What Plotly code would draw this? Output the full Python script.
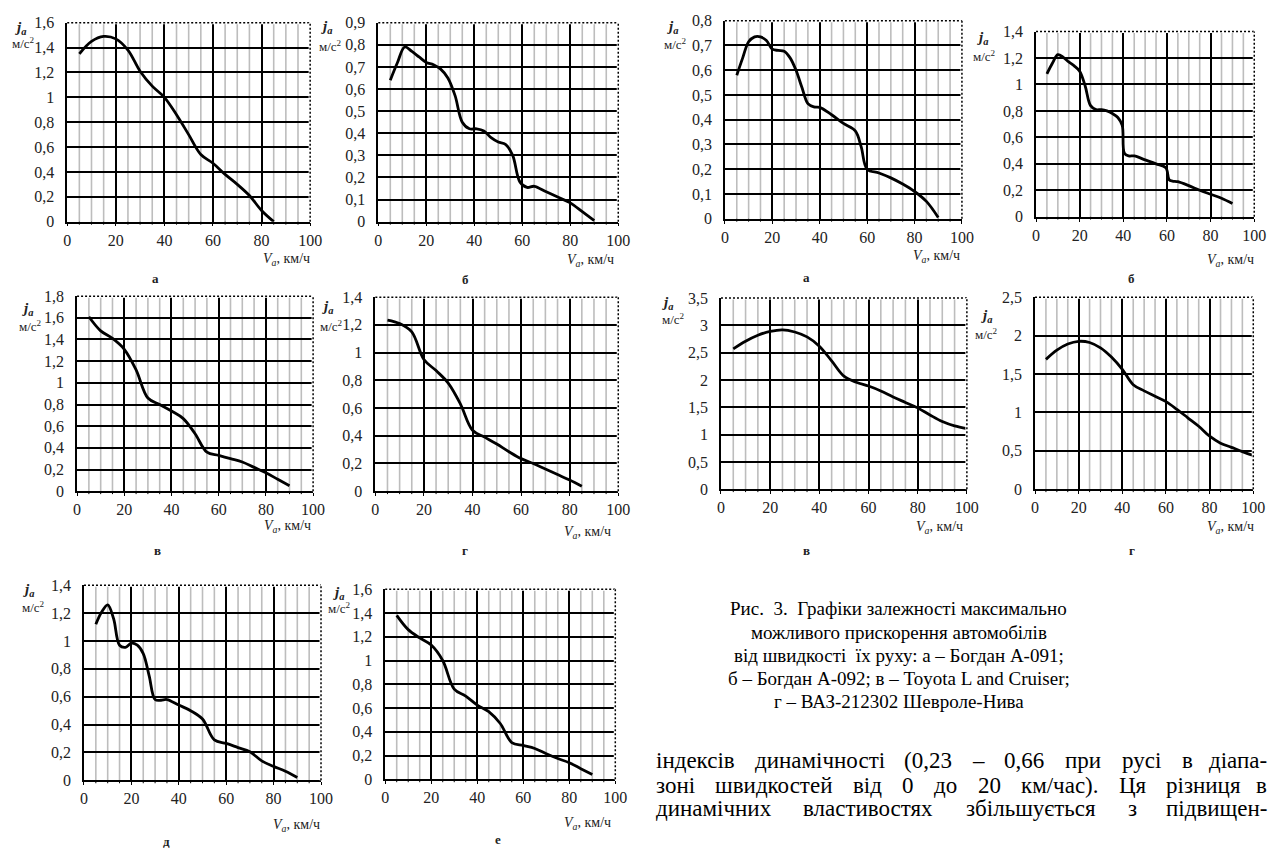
import plotly.graph_objects as go

W, H = 1287, 855

# ---------------- data ----------------
v1 = [5, 10, 15, 20, 25, 30, 35, 40, 45, 50, 55, 60, 65, 70, 75, 80, 85]
j1 = [1.35, 1.45, 1.49, 1.47, 1.38, 1.21, 1.09, 1.00, 0.86, 0.70, 0.54, 0.47, 0.38, 0.30, 0.21, 0.09, 0.0]

v2 = [5, 8, 11, 14, 17, 20, 23, 26, 29, 32, 35, 38, 41, 44, 47, 50, 53, 56, 59, 62, 65, 70, 75, 80, 85, 90]
j2 = [0.64, 0.72, 0.79, 0.77, 0.745, 0.72, 0.71, 0.69, 0.65, 0.57, 0.45, 0.42, 0.42, 0.41, 0.38, 0.36, 0.35, 0.30,
      0.18, 0.155, 0.16, 0.135, 0.11, 0.085, 0.045, 0.005]

v3 = [5, 10, 15, 20, 25, 30, 35, 40, 45, 50, 55, 60, 65, 70, 75, 80, 85, 90]
j3 = [1.61, 1.48, 1.41, 1.31, 1.12, 0.86, 0.80, 0.74, 0.67, 0.53, 0.36, 0.33, 0.30, 0.27, 0.22, 0.17, 0.11, 0.05]

v4 = [5, 10, 15, 20, 25, 30, 35, 40, 45, 50, 55, 60, 65, 70, 75, 80, 85]
j4 = [1.235, 1.21, 1.15, 0.95, 0.87, 0.78, 0.63, 0.44, 0.39, 0.34, 0.285, 0.235, 0.2, 0.16, 0.12, 0.08, 0.035]

v5 = [5, 7.5, 10, 12.5, 15, 17.5, 20, 22.5, 25, 27.5, 30, 32.5, 35, 40, 45, 50, 55, 60, 65, 70, 75, 80, 85, 90]
j5 = [1.12, 1.21, 1.26, 1.16, 0.97, 0.955, 0.985, 0.97, 0.91, 0.75, 0.58, 0.575, 0.58, 0.54, 0.50, 0.44, 0.29,
      0.265, 0.235, 0.205, 0.14, 0.10, 0.065, 0.02]

v6 = [5, 10, 15, 20, 25, 30, 35, 40, 45, 50, 55, 60, 65, 70, 75, 80, 85, 90]
j6 = [1.38, 1.26, 1.19, 1.13, 1.0, 0.76, 0.70, 0.625, 0.57, 0.47, 0.31, 0.285, 0.26, 0.215, 0.175, 0.14, 0.09, 0.04]

v7 = [5, 7.5, 10, 12.5, 15, 17.5, 20, 22.5, 25, 27.5, 30, 32.5, 35, 37.5, 40, 45, 50, 55, 57.5, 60, 65, 70, 75,
      80, 85, 90]
j7 = [0.58, 0.65, 0.715, 0.735, 0.735, 0.72, 0.685, 0.68, 0.677, 0.65, 0.60, 0.53, 0.465, 0.452, 0.45, 0.42,
      0.385, 0.355, 0.29, 0.2, 0.185, 0.165, 0.14, 0.11, 0.07, 0.005]

v8 = [5, 7.5, 10, 12.5, 15, 17.5, 20, 22.5, 25, 27.5, 30, 32.5, 35, 37.5, 39.5, 40.5, 42.5, 45, 50, 55, 59.5,
      61, 62.5, 65, 70, 75, 80, 85, 90]
j8 = [1.08, 1.16, 1.225, 1.205, 1.17, 1.14, 1.10, 0.99, 0.84, 0.81, 0.81, 0.80, 0.78, 0.75, 0.69, 0.48, 0.46,
      0.46, 0.43, 0.40, 0.37, 0.28, 0.27, 0.265, 0.235, 0.20, 0.17, 0.14, 0.10]

v9 = [5, 10, 15, 20, 25, 30, 35, 40, 45, 50, 55, 60, 65, 70, 75, 80, 85, 90, 95, 100]
j9 = [2.57, 2.71, 2.82, 2.89, 2.92, 2.88, 2.79, 2.62, 2.35, 2.07, 1.96, 1.89, 1.80, 1.69, 1.59, 1.49, 1.36,
      1.24, 1.16, 1.11]

v10 = [5, 10, 15, 20, 25, 30, 35, 40, 45, 50, 55, 60, 65, 70, 75, 80, 85, 90, 95, 100]
j10 = [1.69, 1.81, 1.89, 1.925, 1.91, 1.84, 1.72, 1.56, 1.36, 1.28, 1.21, 1.14, 1.04, 0.93, 0.82, 0.69, 0.60,
       0.545, 0.49, 0.44]

x_major_ticks = [0, 20, 40, 60, 80, 100]
x_minor_ticks = [5, 10, 15, 25, 30, 35, 45, 50, 55, 65, 70, 75, 85, 90, 95]
panel_letters = ["а", "б", "в", "г", "д", "е", "а", "б", "в", "г"]
y_max = [1.6, 0.9, 1.8, 1.4, 1.4, 1.6, 0.8, 1.4, 3.5, 2.5]
y_step = [0.2, 0.1, 0.2, 0.2, 0.2, 0.2, 0.1, 0.2, 0.5, 0.5]

caption_lines = [
    "Рис.  3.  Графіки залежності максимально",
    "можливого прискорення автомобілів",
    "від швидкості  їх руху: а – Богдан А-091;",
    "б – Богдан А-092; в – Toyota L and Cruiser;",
    "г – ВАЗ-212302 Шевроле-Нива",
]
paragraph_lines = [
    "індексів динамічності (0,23 – 0,66 при русі в діапа-",
    "зоні швидкостей від 0 до 20 км/час). Ця різниця в",
    "динамічних властивостях збільшується з підвищен-",
]

series = [(v1, j1), (v2, j2), (v3, j3), (v4, j4), (v5, j5), (v6, j6), (v7, j7), (v8, j8), (v9, j9), (v10, j10)]

# ---------------- layout geometry (pixels) ----------------
boxes = [  # left, right, top, bottom
    (64, 310, 15, 218), (379, 622, 15, 218),
    (74, 313, 294, 493), (376, 622, 295, 493),
    (81, 321, 589, 788), (386, 619, 593, 787),
    (730, 970, 13, 215), (1045, 1266, 24, 213),
    (726, 975, 296, 491), (1044, 1265, 295, 491),
]
ylab_pos = [((17, 20), (20, 36)), ((327, 19), (331, 39)), ((24, 307), (27, 324)), ((328, 305), (332, 324)),
            ((25, 594), (30, 611)), ((339, 597), (340, 612)), ((677, 19), (680, 37)), ((991, 31), (993, 49)),
            ((672, 301), (678, 317)), ((995, 314), (995, 333))]
xlab_pos = [(312, 257), (620, 258), (313, 529), (617, 535), (322, 834), (617, 832),
            (970, 254), (1268, 258), (973, 530), (1268, 530)]
letter_pos = [(153, 276), (467, 277), (155, 553), (467, 553), (165, 850), (500, 848),
              (813, 275), (1142, 276), (813, 553), (1142, 553)]

FONT = "Liberation Serif"


def px(x):
    return x / W


def py(y):
    return 1 - y / H


def fmt(v):
    s = ("%.2f" % v).rstrip("0").rstrip(".")
    return s.replace(".", ",")


fig = go.Figure()
annotations = []
shapes = []
layout = {}

for i, ((vx, vy), (l, r, t, b)) in enumerate(zip(series, boxes)):
    k = "" if i == 0 else str(i + 1)
    xa, ya = "x" + k, "y" + k
    fig.add_trace(go.Scatter(x=vx, y=vy, mode="lines", xaxis=xa, yaxis=ya,
                             line=dict(color="black", width=2.8, shape="spline", smoothing=1.0),
                             showlegend=False, hoverinfo="skip"))
    n = int(round(y_max[i] / y_step[i]))
    yt = [round(m * y_step[i], 3) for m in range(n + 1)]
    layout["xaxis" + k] = dict(
        domain=[px(l), px(r)], anchor=ya, range=[0, 100],
        tickvals=x_major_ticks, ticktext=[str(t_) for t_ in x_major_ticks],
        showgrid=True, gridcolor="black", gridwidth=1.6,
        showline=True, linecolor="black", linewidth=1.6,
        ticks="outside", ticklen=3, tickcolor="black", tickwidth=1,
        tickfont=dict(family=FONT, size=16, color="#222"), zeroline=False, fixedrange=True,
    )
    layout["yaxis" + k] = dict(
        domain=[py(b), py(t)], anchor=xa, range=[0, y_max[i]], tickvals=yt,
        ticktext=[fmt(t_) for t_ in yt],
        showgrid=True, gridcolor="black", gridwidth=1.6,
        showline=True, linecolor="black", linewidth=1.6,
        ticks="outside", ticklen=8, tickcolor="rgba(0,0,0,0)",
        tickfont=dict(family=FONT, size=16, color="#222"), zeroline=False, fixedrange=True,
    )
    # minor (gray) vertical grid lines, below the black grid
    for mv in x_minor_ticks:
        shapes.append(dict(type="line", xref=xa, yref=ya + " domain", x0=mv, x1=mv, y0=0, y1=1,
                           line=dict(color="#bdbdbd", width=1.6), layer="below"))
        shapes.append(dict(type="line", xref=xa, yref=ya + " domain", x0=mv, x1=mv, y0=0, y1=-0.015,
                           line=dict(color="black", width=1), layer="above"))
    # dotted top and right borders
    for (x0, y0, x1, y1) in [(0, 1, 1, 1), (1, 0, 1, 1)]:
        shapes.append(dict(type="line", xref=xa + " domain", yref=ya + " domain", x0=x0, y0=y0, x1=x1, y1=y1,
                           line=dict(color="white", width=3), layer="above"))
        shapes.append(dict(type="line", xref=xa + " domain", yref=ya + " domain", x0=x0, y0=y0, x1=x1, y1=y1,
                           line=dict(color="black", width=1.5, dash="2px,2px"), layer="above"))
    (jx, jy), (mx, my) = ylab_pos[i]
    annotations.append(dict(x=px(jx), y=py(jy), xref="paper", yref="paper", showarrow=False,
                            text="<b><i>j<sub>a</sub></i></b>", font=dict(family=FONT, size=15, color="#222"),
                            xanchor="center", yanchor="middle"))
    annotations.append(dict(x=px(mx), y=py(my), xref="paper", yref="paper", showarrow=False,
                            text="м/с<sup>2</sup>", font=dict(family=FONT, size=13, color="#222"),
                            xanchor="center", yanchor="middle"))
    xx, xy = xlab_pos[i]
    annotations.append(dict(x=px(xx), y=py(xy), xref="paper", yref="paper", showarrow=False,
                            text="<i>V<sub>a</sub></i>, км/ч", font=dict(family=FONT, size=14, color="#222"),
                            xanchor="right", yanchor="middle"))
    lx, ly = letter_pos[i]
    annotations.append(dict(x=px(lx), y=py(ly), xref="paper", yref="paper", showarrow=False,
                            text="<b>" + panel_letters[i] + "</b>", font=dict(family=FONT, size=13, color="#222"),
                            xanchor="center", yanchor="middle"))

# caption
cap_y = [613, 637, 661, 684, 708]
for line, yy in zip(caption_lines, cap_y):
    annotations.append(dict(x=px(906), y=py(yy), xref="paper", yref="paper", showarrow=False,
                            text=line.replace("  ", "&nbsp; "), font=dict(family=FONT, size=19, color="black"),
                            xanchor="center", yanchor="middle"))

# justified paragraph (approximate Times metrics, per 1000 em)
WID = {"а": 444, "б": 509, "в": 472, "г": 410, "д": 509, "е": 444, "є": 444, "ж": 691, "з": 395, "и": 535,
       "і": 278, "ї": 278, "й": 535, "к": 486, "л": 499, "м": 633, "н": 535, "о": 500, "п": 535, "р": 500,
       "с": 444, "т": 437, "у": 500, "ф": 648, "х": 500, "ц": 535, "ч": 503, "ш": 770, "щ": 770, "ь": 456,
       "ю": 743, "я": 478, "Ц": 667, "(": 333, ")": 333, ",": 250, ".": 250, "–": 500, "-": 333, "/": 278}
P_SIZE = 23
P_LEFT, P_RIGHT = 658, 1281
par_y = [768, 793, 817]
for line, yy in zip(paragraph_lines, par_y):
    words = line.split(" ")
    widths = [sum(WID.get(c, 500) for c in w) / 1000 * P_SIZE for w in words]
    gap = (P_RIGHT - P_LEFT - sum(widths)) / (len(words) - 1)
    xcur = P_LEFT
    for wi, (w, wd) in enumerate(zip(words, widths)):
        if wi == len(words) - 1:
            annotations.append(dict(x=px(P_RIGHT), y=py(yy), xref="paper", yref="paper", showarrow=False,
                                    text=w, font=dict(family=FONT, size=P_SIZE, color="black"),
                                    xanchor="right", yanchor="middle"))
        else:
            annotations.append(dict(x=px(xcur), y=py(yy), xref="paper", yref="paper", showarrow=False,
                                    text=w, font=dict(family=FONT, size=P_SIZE, color="black"),
                                    xanchor="left", yanchor="middle"))
        xcur += wd + gap

fig.update_layout(
    width=W, height=H, margin=dict(l=0, r=0, t=0, b=0), autosize=False,
    paper_bgcolor="white", plot_bgcolor="white", showlegend=False,
    annotations=annotations, shapes=shapes, **layout,
)
fig.write_html("out.html", config={"displayModeBar": False})
